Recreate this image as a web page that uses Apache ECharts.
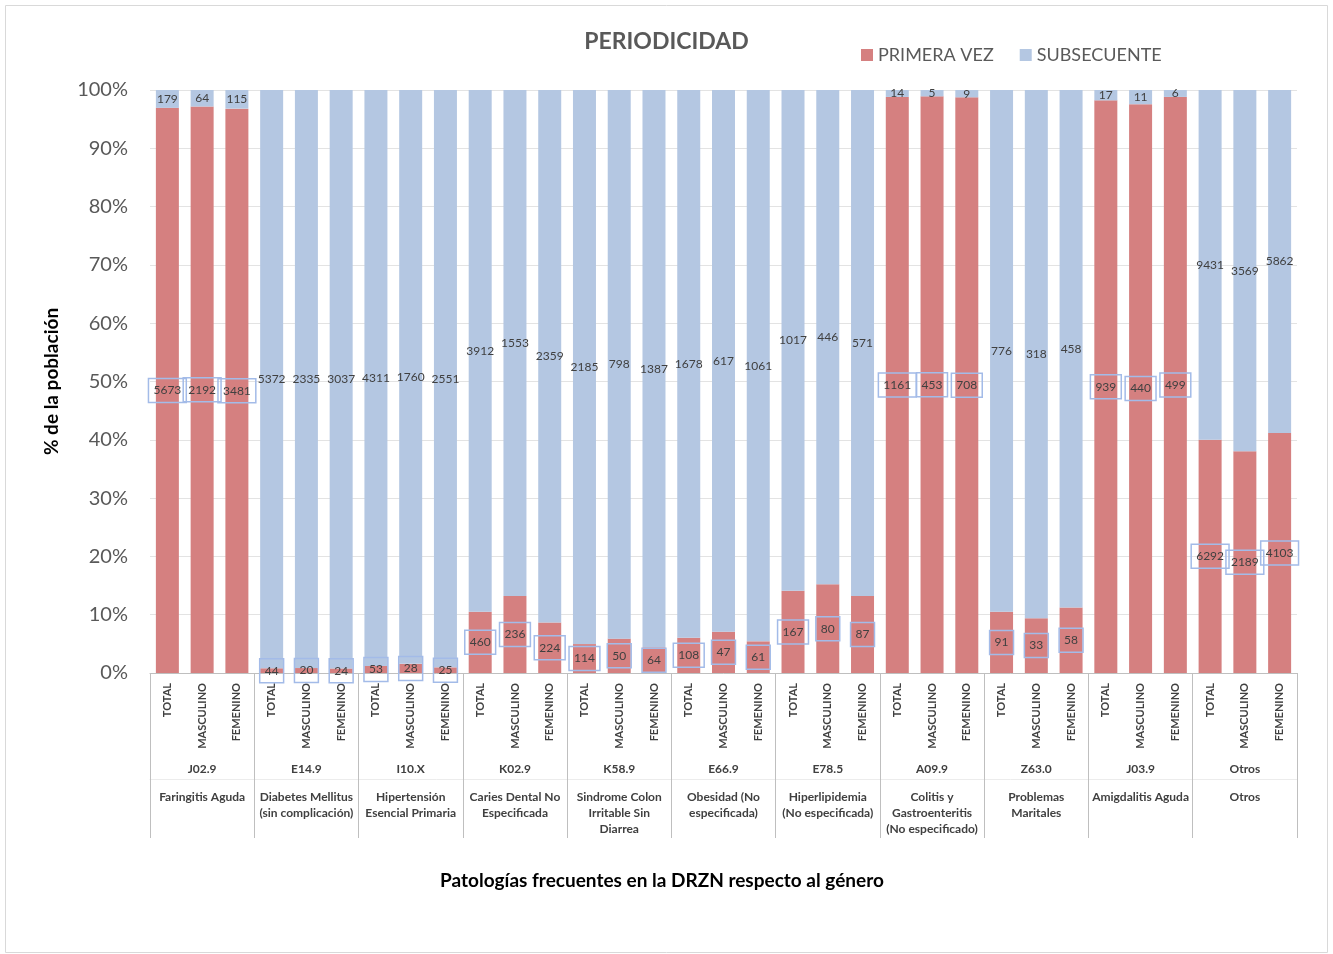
<!DOCTYPE html>
<html style="height: 100%">
<head>
  <meta charset="utf-8">
</head>
<body style="height: 100%; margin: 0; background: #fff">
  <div id="container" style="width: 1333px; height: 954px;"></div>
  <script type="text/javascript" src="https://cdn.jsdelivr.net/npm/echarts@6/dist/echarts.min.js"></script>
  <script type="text/javascript">
var codes = ['J02.9', 'E14.9', 'I10.X', 'K02.9', 'K58.9', 'E66.9', 'E78.5', 'A09.9', 'Z63.0', 'J03.9', 'Otros'];
var descs = ['Faringitis Aguda', 'Diabetes Mellitus\n(sin complicación)', 'Hipertensión\nEsencial Primaria',
  'Caries Dental No\nEspecificada', 'Sindrome Colon\nIrritable Sin\nDiarrea', 'Obesidad (No\nespecificada)',
  'Hiperlipidemia\n(No especificada)', 'Colitis y\nGastroenteritis\n(No especificado)', 'Problemas\nMaritales',
  'Amigdalitis Aguda', 'Otros'];
var genders = ['TOTAL', 'MASCULINO', 'FEMENINO'];

var primeraVez = [5673, 2192, 3481, 44, 20, 24, 53, 28, 25, 460, 236, 224, 114, 50, 64, 108, 47, 61,
  167, 80, 87, 1161, 453, 708, 91, 33, 58, 939, 440, 499, 6292, 2189, 4103];
var subsecuente = [179, 64, 115, 5372, 2335, 3037, 4311, 1760, 2551, 3912, 1553, 2359, 2185, 798, 1387,
  1678, 617, 1061, 1017, 446, 571, 14, 5, 9, 776, 318, 458, 17, 11, 6, 9431, 3569, 5862];

var cats = [];
codes.forEach(function (c) {
  genders.forEach(function (g) { cats.push(c + '|' + g); });
});

// share of each bar
var pvPct = primeraVez.map(function (v, i) { return v / (v + subsecuente[i]); });
var subPct = subsecuente.map(function (v, i) { return v / (v + primeraVez[i]); });

var font = 'Lato, "Open Sans", sans-serif';
var dark = '#404040';

var chart = echarts.init(document.getElementById('container'));
var option = {
  animation: false,
  textStyle: { fontFamily: font },
  title: {
    text: 'PERIODICIDAD',
    left: 'center',
    top: 25,
    textStyle: { fontSize: 23, fontWeight: 'bold', color: '#595959', fontFamily: font }
  },
  legend: {
    left: 856,
    top: 41,
    itemWidth: 12,
    itemHeight: 12,
    itemGap: 26,
    icon: 'rect',
    textStyle: { fontSize: 18, color: '#595959', fontFamily: font },
    data: ['PRIMERA VEZ', 'SUBSECUENTE']
  },
  graphic: [{
    type: 'rect',
    shape: { x: 5.5, y: 5.5, width: 1322, height: 947 },
    style: { fill: 'none', stroke: '#d9d9d9', lineWidth: 1 },
    silent: true
  }, {
    type: 'text',
    x: 662,
    y: 881,
    style: {
      text: 'Patologías frecuentes en la DRZN respecto al género',
      fontSize: 19,
      fontWeight: 'bold',
      fontFamily: font,
      fill: '#000',
      align: 'center',
      verticalAlign: 'middle'
    },
    silent: true
  }],
  grid: { left: 150, right: 36, top: 90, bottom: 281 },
  xAxis: [{
    type: 'category',
    data: cats,
    axisLine: { lineStyle: { color: '#bfbfbf' } },
    axisTick: { show: false },
    axisLabel: {
      rotate: 90,
      interval: 0,
      margin: 10,
      fontSize: 11,
      fontWeight: 'bold',
      color: dark,
      formatter: function (v) { return v.split('|')[1]; }
    }
  }, {
    type: 'category',
    data: codes,
    position: 'bottom',
    axisLine: { show: false },
    axisTick: { show: true, interval: 0, length: 165, lineStyle: { color: '#bfbfbf' } },
    axisLabel: { interval: 0, margin: 90, fontSize: 12, fontWeight: 'bold', color: dark }
  }, {
    type: 'category',
    data: descs,
    position: 'bottom',
    offset: 106,
    axisLine: { show: true, lineStyle: { color: '#ececec' } },
    axisTick: { show: false },
    axisLabel: { interval: 0, margin: 10, fontSize: 12, fontWeight: 'bold', color: dark, lineHeight: 16 }
  }],
  yAxis: {
    type: 'value',
    min: 0,
    max: 1,
    interval: 0.1,
    axisLine: { show: false },
    axisTick: { show: false },
    splitLine: { lineStyle: { color: '#e3e3e3' } },
    axisLabel: {
      margin: 22,
      fontSize: 20,
      color: '#595959',
      formatter: function (v) { return Math.round(v * 100) + '%'; }
    },
    name: '% de la población',
    nameLocation: 'middle',
    nameGap: 89,
    nameRotate: 90,
    nameTextStyle: { fontSize: 19, fontWeight: 'bold', color: '#000' }
  },
  series: [{
    name: 'PRIMERA VEZ',
    type: 'bar',
    stack: 'p',
    barWidth: 23,
    data: pvPct,
    itemStyle: { color: '#d58080' },
    label: {
      show: true,
      position: 'inside',
      color: dark,
      fontSize: 12,
      padding: [6, 5],
      borderColor: '#a3bbe8',
      borderWidth: 1.5,
      formatter: function (p) { return primeraVez[p.dataIndex]; }
    }
  }, {
    name: 'SUBSECUENTE',
    type: 'bar',
    stack: 'p',
    barWidth: 23,
    data: subPct,
    itemStyle: { color: '#b4c7e2' },
    label: {
      show: true,
      position: 'inside',
      color: dark,
      fontSize: 12,
      formatter: function (p) { return subsecuente[p.dataIndex]; }
    }
  }]
};
chart.setOption(option);
  </script>
</body>
</html>
